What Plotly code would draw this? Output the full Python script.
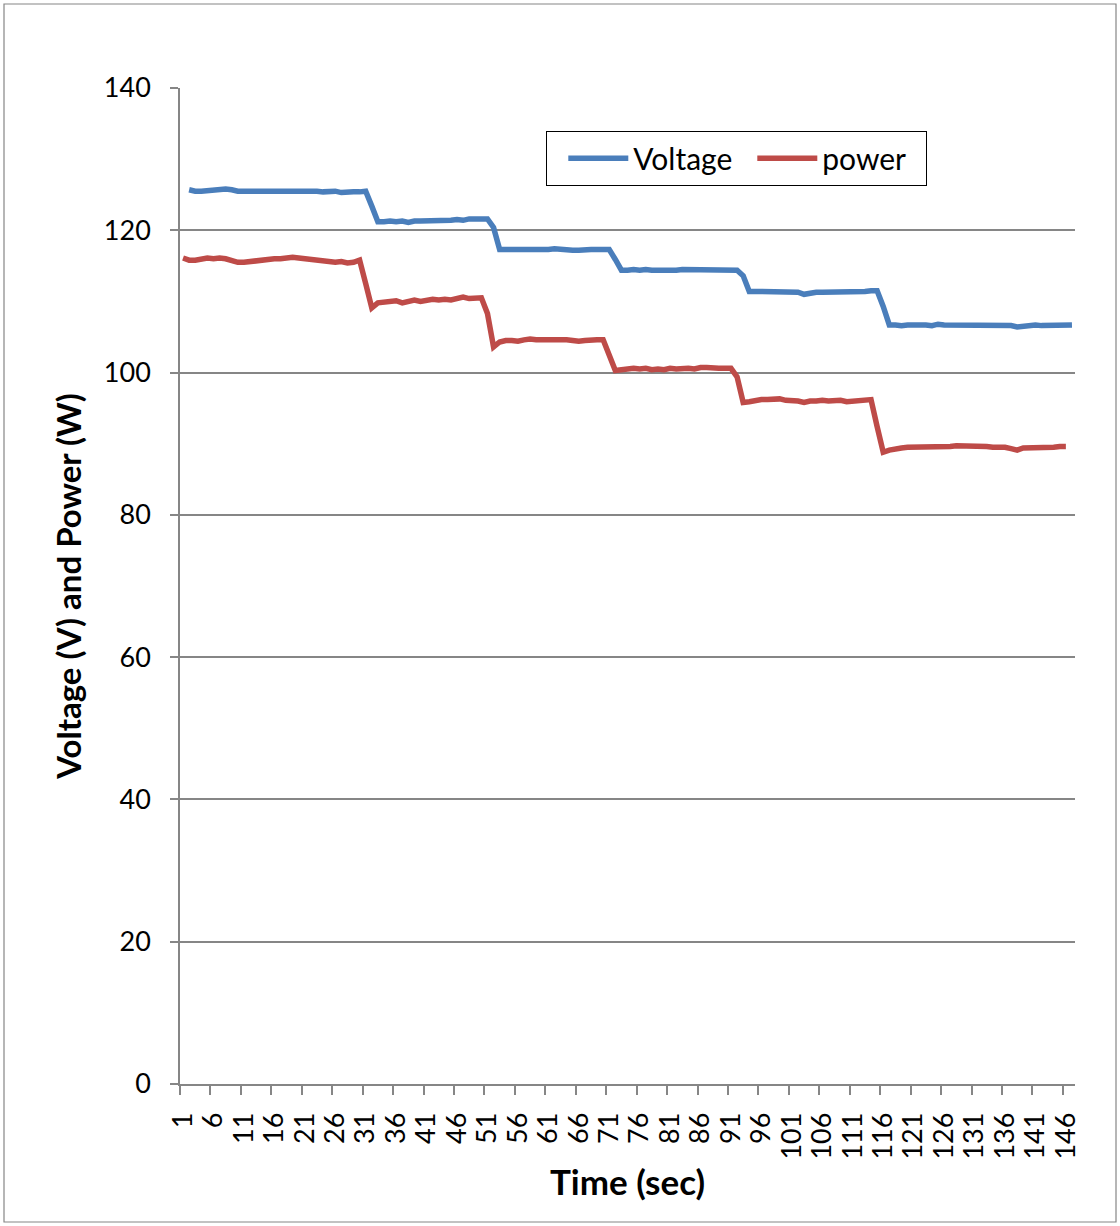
import plotly.graph_objects as go

# Time axis: one category per second, labelled every 5 s
time_sec = list(range(1, 148))
tick_labels = [str(t) for t in range(1, 147, 5)]

# Voltage (V), logged from t = 2 s to t = 147 s
voltage = [
    125.7, 125.5, 125.5, 125.6, 125.7, 125.7, 125.8, 125.7, 125.5, 125.5,
    125.5, 125.5, 125.6, 125.6, 125.5, 125.5, 125.5, 125.5, 125.5, 125.6,
    125.5, 125.5, 125.4, 125.4, 125.5, 125.3, 125.4, 125.4, 125.4, 125.5,
    123.4, 121.2,
    121.2, 121.3, 121.2, 121.3, 121.1, 121.3, 121.3, 121.3, 121.4, 121.4,
    121.3, 121.4, 121.5, 121.4, 121.6, 121.6, 121.6, 121.6,
    120.4, 117.3,
    117.3, 117.3, 117.2, 117.3, 117.3, 117.3, 117.3, 117.3, 117.4, 117.3,
    117.3, 117.2, 117.2, 117.3, 117.3, 117.3, 117.3, 117.3,
    115.9, 114.4,
    114.4, 114.5, 114.4, 114.5, 114.4, 114.4, 114.3, 114.4, 114.4, 114.5,
    114.5, 114.5, 114.4, 114.5, 114.5, 114.5, 114.5, 114.5, 114.4,
    113.6, 111.4,
    111.4, 111.4, 111.4, 111.4, 111.4, 111.3, 111.3, 111.3, 111.0, 111.2,
    111.3, 111.3, 111.3, 111.4, 111.3, 111.3, 111.4, 111.4, 111.4, 111.5,
    111.5,
    109.3, 106.7,
    106.7, 106.6, 106.7, 106.7, 106.8, 106.7, 106.6, 106.8, 106.7, 106.7,
    106.7, 106.7, 106.7, 106.7, 106.7, 106.7, 106.7, 106.6, 106.6, 106.6,
    106.4, 106.5, 106.6, 106.7, 106.6, 106.6, 106.7, 106.6, 106.6, 106.7,
]

# Power (W), logged from t = 1 s to t = 146 s
power = [
    116.1, 115.8, 115.8, 116.0, 116.1, 116.0, 116.1, 116.0, 115.7, 115.5,
    115.5, 115.6, 115.7, 115.9, 115.9, 116.0, 116.0, 116.1, 116.2, 116.1,
    116.0, 115.9, 115.8, 115.7, 115.7, 115.5, 115.6, 115.4, 115.5, 115.8,
    112.5, 109.1,
    109.8, 109.9, 110.0, 110.1, 109.8, 110.0, 110.2, 110.0, 110.2, 110.3,
    110.2, 110.3, 110.2, 110.4, 110.6, 110.4, 110.5, 110.5,
    108.3, 103.6,
    104.3, 104.5, 104.5, 104.4, 104.6, 104.7, 104.6, 104.6, 104.7, 104.7,
    104.6, 104.6, 104.5, 104.4, 104.5, 104.6, 104.6, 104.6,
    102.3, 100.3,
    100.4, 100.5, 100.6, 100.5, 100.6, 100.4, 100.5, 100.4, 100.6, 100.5,
    100.6, 100.6, 100.5, 100.7, 100.7, 100.6, 100.6, 100.6, 100.6,
    99.4, 95.8,
    95.9, 96.1, 96.2, 96.2, 96.2, 96.3, 96.1, 96.1, 96.0, 95.8,
    96.0, 96.0, 96.1, 96.0, 96.1, 96.1, 95.9, 96.0, 96.0, 96.1,
    96.2,
    92.4, 88.8,
    89.1, 89.3, 89.4, 89.5, 89.5, 89.5, 89.5, 89.5, 89.5, 89.6,
    89.6, 89.7, 89.7, 89.7, 89.6, 89.6, 89.6, 89.5, 89.5, 89.5,
    89.3, 89.1, 89.4, 89.4, 89.4, 89.4, 89.5, 89.5, 89.6, 89.6,
]

voltage_y = [None] + voltage
power_y = power + [None]

FONT = "Lato"
GRID = "#868686"
W, H = 1120, 1226
L, R, T, B = 180, 45, 88, 142
pw, ph = W - L - R, H - T - B

fig = go.Figure()
fig.add_trace(go.Scatter(
    x=time_sec, y=voltage_y, name="Voltage", mode="lines",
    line=dict(color="#4A7EBB", width=5.5), connectgaps=False,
))
fig.add_trace(go.Scatter(
    x=time_sec, y=power_y, name="power", mode="lines",
    line=dict(color="#BE4B48", width=5.5), connectgaps=False,
))

# outer chart-area border, expressed in plot-area paper coordinates
def px_x(v):
    return (v - L) / pw

def px_y(v):
    return (H - B - v) / ph

fig.add_shape(type="rect", xref="paper", yref="paper",
              x0=px_x(4), x1=px_x(1116), y0=px_y(1222), y1=px_y(4),
              line=dict(color=GRID, width=1.2), layer="below")

fig.update_layout(
    width=W, height=H,
    margin=dict(l=L, r=R, t=T, b=B, autoexpand=False),
    paper_bgcolor="white", plot_bgcolor="white",
    font=dict(family=FONT, color="black", size=27),
    showlegend=True,
    legend=dict(
        orientation="h", x=px_x(546), y=px_y(131), xanchor="left", yanchor="top",
        bordercolor="black", borderwidth=1.3, bgcolor="white",
        font=dict(size=30, family=FONT), itemwidth=60,
        entrywidth=98, indentation=16, tracegroupgap=0,
    ),
    xaxis=dict(
        range=[0.5, 147.5], tickmode="array",
        tickvals=list(range(1, 147, 5)), ticktext=tick_labels,
        tickangle=-90, ticks="", showgrid=False,
        showline=True, linecolor=GRID, linewidth=1.6,
        ticklabelstandoff=16,
        minor=dict(ticks="outside", tickmode="linear", tick0=0.5, dtick=5,
                   ticklen=9, tickcolor=GRID, tickwidth=1.6, showgrid=False),
        tickfont=dict(size=27),
        title=dict(text="<b>Time (sec)</b>", font=dict(size=35), standoff=12),
        zeroline=False,
    ),
    yaxis=dict(
        range=[0, 140], dtick=20, tick0=0,
        ticks="outside", ticklen=8, tickcolor=GRID, tickwidth=1.6,
        showline=True, linecolor=GRID, linewidth=1.6,
        showgrid=True, gridcolor=GRID, gridwidth=1.6,
        zeroline=False, ticklabelstandoff=14,
        tickfont=dict(size=27),
        title=dict(text="<b>Voltage (V) and Power (W)</b>", font=dict(size=33), standoff=12),
    ),
)

fig.write_html("out.html")
